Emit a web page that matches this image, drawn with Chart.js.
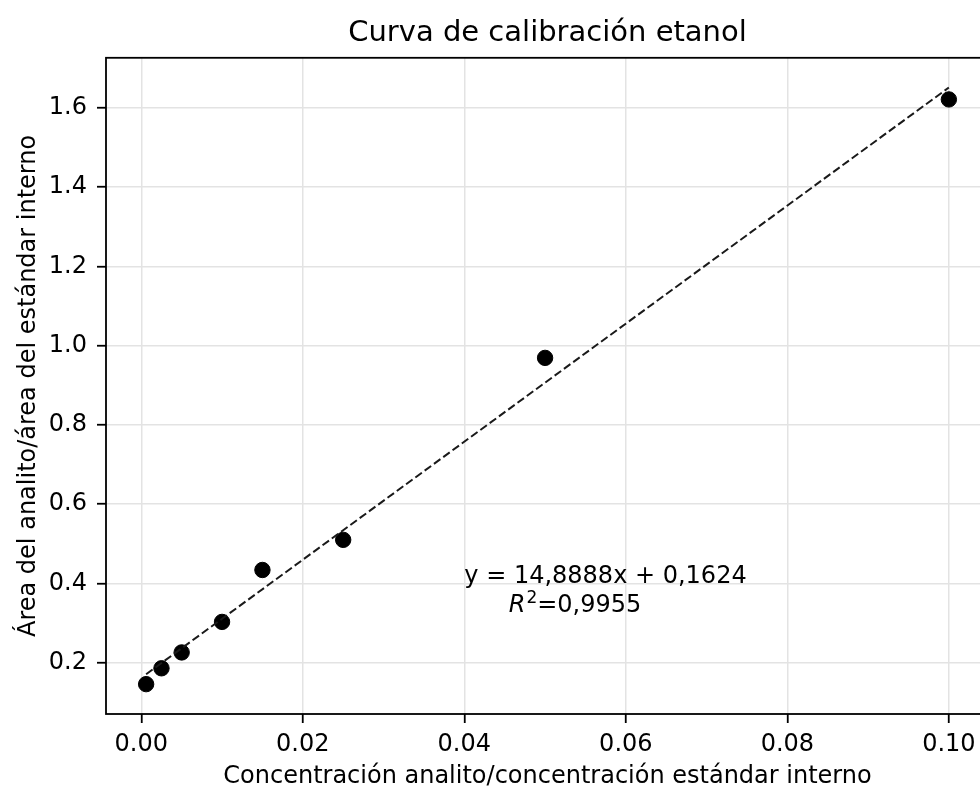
<!DOCTYPE html>
<html>
<head>
<meta charset="utf-8">
<script src="https://cdn.jsdelivr.net/npm/chart.js@4.4.1/dist/chart.umd.min.js"></script>
<style>
    body { margin: 0; background: #fff; }
    #wrap { width: 980px; height: 787px; overflow: hidden; }
</style>
</head>
<body>
<div id="wrap"><canvas id="myChart" width="1000" height="787"></canvas></div>
<script>
// data
let concX = [0.0006, 0.0025, 0.005, 0.01, 0.015, 0.025, 0.05, 0.1]; // concentración analito / estándar interno
let areaY = [0.146, 0.186, 0.226, 0.303, 0.434, 0.510, 0.969, 1.621]; // área analito / estándar interno
let fitX = [0.0006, 0.1]; // extremos de la recta de ajuste
let fitY = [0.171, 1.651];
let xTicks = [0.00, 0.02, 0.04, 0.06, 0.08, 0.10];
let yTicks = [0.2, 0.4, 0.6, 0.8, 1.0, 1.2, 1.4, 1.6];
let eqText = "y = 14,8888x + 0,1624";
let eqPos = [0.04, 0.4];
let r2Text = "=0,9955";
let r2Pos = [0.0455, 0.329];

let fontFam = '"DejaVu Sans"';

// marco + texto de la ecuación
const framePlugin = {
    id: 'frame',
    afterDatasetsDraw(chart) {
        const { ctx, scales } = chart;
        ctx.save();
        ctx.fillStyle = '#000';
        ctx.textBaseline = 'alphabetic';
        ctx.textAlign = 'left';
        ctx.font = '24px ' + fontFam;
        ctx.fillText(eqText, scales.x.getPixelForValue(eqPos[0]), scales.y.getPixelForValue(eqPos[1]));
        let x2 = scales.x.getPixelForValue(r2Pos[0]);
        let y2 = scales.y.getPixelForValue(r2Pos[1]);
        ctx.font = 'italic 24px ' + fontFam;
        ctx.fillText('R', x2, y2);
        x2 += ctx.measureText('R').width + 1;
        ctx.font = '17px ' + fontFam;
        ctx.fillText('2', x2, y2 - 9);
        x2 += ctx.measureText('2').width;
        ctx.font = '24px ' + fontFam;
        ctx.fillText(r2Text, x2, y2);
        ctx.restore();
    },
    afterDraw(chart) {
        const { ctx, chartArea: a } = chart;
        ctx.save();
        ctx.strokeStyle = '#000';
        ctx.lineWidth = 1.8;
        ctx.strokeRect(a.left, a.top, a.right - a.left, a.bottom - a.top);
        ctx.restore();
    }
};

let Ctxt = document.getElementById("myChart").getContext("2d");
let ChartInst = new Chart(Ctxt, {
    type: 'scatter',
    data: {
        datasets: [
            {
                type: 'line',
                data: fitX.map((x, i) => ({ x: x, y: fitY[i] })),
                borderColor: '#1a1a1a',
                borderWidth: 2,
                borderDash: [8, 3.5],
                pointRadius: 0,
                fill: false,
                order: 0
            },
            {
                data: concX.map((x, i) => ({ x: x, y: areaY[i] })),
                backgroundColor: '#000',
                borderColor: '#000',
                pointRadius: 7.7,
                pointHoverRadius: 7.7,
                order: 1
            }
        ]
    },
    options: {
        responsive: false,
        animation: false,
        devicePixelRatio: 1,
        layout: { padding: { left: 0, right: 11, top: 0, bottom: 0 } },
        plugins: {
            legend: { display: false },
            tooltip: { enabled: false },
            title: {
                display: true,
                fullSize: false,
                text: 'Curva de calibración etanol',
                color: '#000',
                font: { family: 'DejaVu Sans', size: 29, weight: 'normal', lineHeight: 1.2 },
                padding: { top: 16, bottom: 7 }
            }
        },
        scales: {
            x: {
                type: 'linear',
                min: -0.00437,
                max: 0.10497,
                afterBuildTicks: s => { s.ticks = xTicks.map(v => ({ value: v })); },
                afterFit: s => { s.height = 73; },
                grid: { color: '#e3e3e3', lineWidth: 1.5, drawTicks: true, tickLength: 9, tickColor: '#000', tickWidth: 1.8 },
                border: { display: false },
                ticks: {
                    color: '#000', padding: 7, maxRotation: 0,
                    font: { family: 'DejaVu Sans', size: 24 },
                    callback: v => v.toFixed(2)
                },
                title: {
                    display: true,
                    text: 'Concentración analito/concentración estándar interno',
                    color: '#000',
                    font: { family: 'DejaVu Sans', size: 24, lineHeight: 1 },
                    padding: { top: 0, bottom: -2 }
                }
            },
            y: {
                type: 'linear',
                min: 0.0707,
                max: 1.726,
                afterBuildTicks: s => { s.ticks = yTicks.map(v => ({ value: v })); },
                afterFit: s => { s.width = 106; },
                grid: { color: '#e3e3e3', lineWidth: 1.5, drawTicks: true, tickLength: 9, tickColor: '#000', tickWidth: 1.8 },
                border: { display: false },
                ticks: {
                    color: '#000', padding: 10,
                    font: { family: 'DejaVu Sans', size: 24 },
                    callback: v => v.toFixed(1)
                },
                title: {
                    display: true,
                    text: 'Área del analito/área del estándar interno',
                    color: '#000',
                    font: { family: 'DejaVu Sans', size: 24, lineHeight: 1 },
                    padding: { top: 17, bottom: 0 }
                }
            }
        }
    },
    plugins: [framePlugin]
});
</script>
</body>
</html>
